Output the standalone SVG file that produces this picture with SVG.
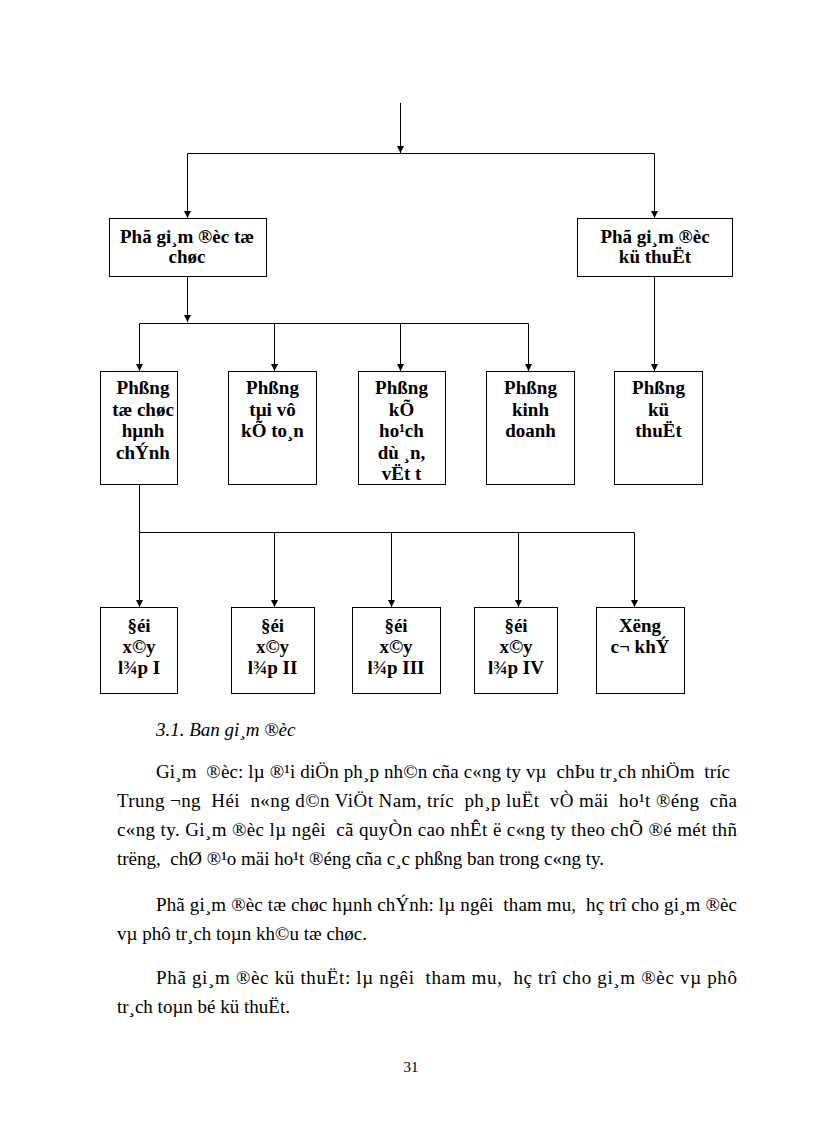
<svg xmlns="http://www.w3.org/2000/svg" width="816" height="1123" viewBox="0 0 816 1123">
<style>
.box{fill:#fff;stroke:#000;stroke-width:1}
.lbl{font-family:"Liberation Serif","Times New Roman",serif;font-weight:bold;font-size:19px;text-anchor:middle;fill:#000}
.con{fill:none;stroke:#000;stroke-width:1}
.body{font-family:"Liberation Serif","Times New Roman",serif;font-size:19px;fill:#000}
.it{font-style:italic}
</style>
<defs>
<marker id="arr" markerUnits="userSpaceOnUse" markerWidth="8" markerHeight="8" refX="7" refY="3.5" orient="auto">
<path d="M0,0 L7,3.5 L0,7 z" fill="#000"/>
</marker>
</defs>
<rect width="816" height="1123" fill="#fff"/>
<g id="connectors">
<path class="con" d="M400.5,103 V153" marker-end="url(#arr)"/>
<path class="con" d="M187.5,153.5 H654.5"/>
<path class="con" d="M187.5,153.5 V218" marker-end="url(#arr)"/>
<path class="con" d="M654.5,153.5 V218" marker-end="url(#arr)"/>
<path class="con" d="M187.5,276.5 V322" marker-end="url(#arr)"/>
<path class="con" d="M139.5,323.5 H528.5"/>
<path class="con" d="M139.5,323.5 V371" marker-end="url(#arr)"/>
<path class="con" d="M274.5,323.5 V371" marker-end="url(#arr)"/>
<path class="con" d="M400.5,323.5 V371" marker-end="url(#arr)"/>
<path class="con" d="M528.5,323.5 V371" marker-end="url(#arr)"/>
<path class="con" d="M654.5,276.5 V371" marker-end="url(#arr)"/>
<path class="con" d="M139.5,484.5 V532.5 H634.5"/>
<path class="con" d="M139.5,532.5 V607" marker-end="url(#arr)"/>
<path class="con" d="M274.5,532.5 V607" marker-end="url(#arr)"/>
<path class="con" d="M391.5,532.5 V607" marker-end="url(#arr)"/>
<path class="con" d="M518.5,532.5 V607" marker-end="url(#arr)"/>
<path class="con" d="M634.5,532.5 V607" marker-end="url(#arr)"/>
</g>
<g id="pgd-tochuc">
<rect class="box" x="109.5" y="218.5" width="157" height="58"/>
<text class="lbl" x="187" y="243">Phã gi¸m ®èc tæ</text>
<text class="lbl" x="187" y="263">chøc</text>
</g>
<g id="pgd-kythuat">
<rect class="box" x="577.5" y="218.5" width="155" height="58"/>
<text class="lbl" x="655" y="243">Phã gi¸m ®èc</text>
<text class="lbl" x="655" y="263">kü thuËt</text>
</g>
<g id="p-tochuc">
<rect class="box" x="100.5" y="371.5" width="77" height="113"/>
<text class="lbl" x="143" y="394">Phßng</text>
<text class="lbl" x="143" y="415.5">tæ chøc</text>
<text class="lbl" x="143" y="437">hµnh</text>
<text class="lbl" x="143" y="458.5">chÝnh</text>
</g>
<g id="p-taivu">
<rect class="box" x="228.5" y="371.5" width="88" height="113"/>
<text class="lbl" x="272.5" y="394">Phßng</text>
<text class="lbl" x="272.5" y="415.5">tµi vô</text>
<text class="lbl" x="272.5" y="437">kÕ to¸n</text>
</g>
<g id="p-kehoach">
<rect class="box" x="358.5" y="371.5" width="87" height="113"/>
<text class="lbl" x="401.5" y="394">Phßng</text>
<text class="lbl" x="401.5" y="415.5">kÕ</text>
<text class="lbl" x="401.5" y="437">ho¹ch</text>
<text class="lbl" x="401.5" y="458.5" xml:space="preserve">dù ¸n,</text>
<text class="lbl" x="401.5" y="480">vËt t</text>
</g>
<g id="p-kinhdoanh">
<rect class="box" x="486.5" y="371.5" width="88" height="113"/>
<text class="lbl" x="530.5" y="394">Phßng</text>
<text class="lbl" x="530.5" y="415.5">kinh</text>
<text class="lbl" x="530.5" y="437">doanh</text>
</g>
<g id="p-kythuat">
<rect class="box" x="614.5" y="371.5" width="88" height="113"/>
<text class="lbl" x="658.5" y="394">Phßng</text>
<text class="lbl" x="658.5" y="415.5">kü</text>
<text class="lbl" x="658.5" y="437">thuËt</text>
</g>
<g id="doi-1">
<rect class="box" x="100.5" y="607.5" width="77" height="86"/>
<text class="lbl" x="139" y="632">§éi</text>
<text class="lbl" x="139" y="653">x©y</text>
<text class="lbl" x="139" y="674">l¾p I</text>
</g>
<g id="doi-2">
<rect class="box" x="231.5" y="607.5" width="83" height="86"/>
<text class="lbl" x="272.5" y="632">§éi</text>
<text class="lbl" x="272.5" y="653">x©y</text>
<text class="lbl" x="272.5" y="674">l¾p II</text>
</g>
<g id="doi-3">
<rect class="box" x="352.5" y="607.5" width="88" height="86"/>
<text class="lbl" x="396" y="632">§éi</text>
<text class="lbl" x="396" y="653">x©y</text>
<text class="lbl" x="396" y="674">l¾p III</text>
</g>
<g id="doi-4">
<rect class="box" x="474.5" y="607.5" width="83" height="86"/>
<text class="lbl" x="516" y="632">§éi</text>
<text class="lbl" x="516" y="653">x©y</text>
<text class="lbl" x="516" y="674">l¾p IV</text>
</g>
<g id="xuong">
<rect class="box" x="596.5" y="607.5" width="88" height="86"/>
<text class="lbl" x="640" y="632">Xëng</text>
<text class="lbl" x="640" y="653">c¬ khÝ</text>
</g>
<g id="text">
<text class="body it" x="156" y="736">3.1. Ban gi¸m ®èc</text>
<text class="body" x="156" y="778" textLength="574" lengthAdjust="spacing" xml:space="preserve">Gi¸m  ®èc: lµ ®¹i diÖn ph¸p nh©n cña c«ng ty vµ  chÞu tr¸ch nhiÖm  tríc</text>
<text class="body" x="117" y="807" textLength="620" lengthAdjust="spacing" xml:space="preserve">Trung ¬ng  Héi  n«ng d©n ViÖt Nam, tríc  ph¸p luËt  vÒ mäi  ho¹t ®éng  cña</text>
<text class="body" x="117" y="836" textLength="620" lengthAdjust="spacing" xml:space="preserve">c«ng ty. Gi¸m ®èc lµ ngêi  cã quyÒn cao nhÊt ë c«ng ty theo chÕ ®é mét thñ</text>
<text class="body" x="117" y="865" xml:space="preserve">trëng,  chØ ®¹o mäi ho¹t ®éng cña c¸c phßng ban trong c«ng ty.</text>
<text class="body" x="156" y="911" textLength="581" lengthAdjust="spacing" xml:space="preserve">Phã gi¸m ®èc tæ chøc hµnh chÝnh: lµ ngêi  tham mu,  hç trî cho gi¸m ®èc</text>
<text class="body" x="117" y="940">vµ phô tr¸ch toµn kh©u tæ chøc.</text>
<text class="body" x="156" y="984" textLength="581" lengthAdjust="spacing" xml:space="preserve">Phã gi¸m ®èc kü thuËt: lµ ngêi  tham mu,  hç trî cho gi¸m ®èc vµ phô</text>
<text class="body" x="117" y="1013">tr¸ch toµn bé kü thuËt.</text>
<text class="body" x="411" y="1072" style="font-size:15px" text-anchor="middle">31</text>
</g>
</svg>
